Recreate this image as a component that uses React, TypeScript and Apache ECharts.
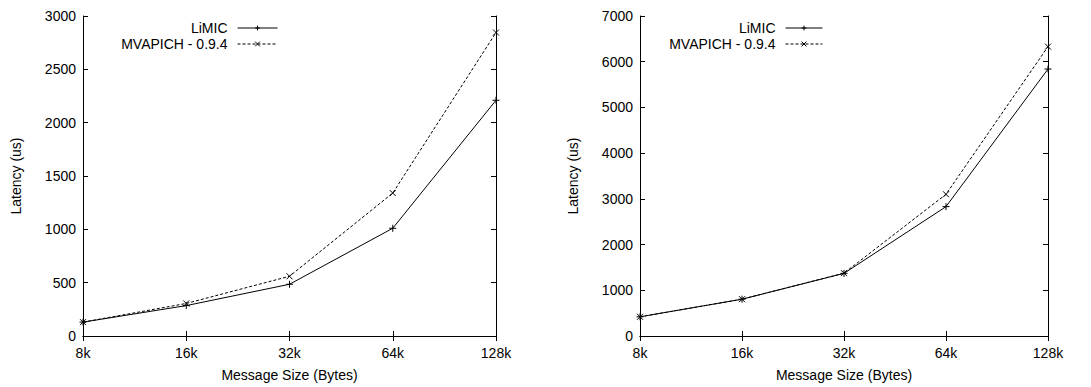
import React, { useEffect, useRef } from "react";
import * as echarts from "echarts";

const categories = ["8k", "16k", "32k", "64k", "128k"];
const leftLimic = [130, 285, 485, 1010, 2210];
const leftMvapich = [130, 305, 560, 1340, 2845];
const rightLimic = [420, 805, 1370, 2830, 5840];
const rightMvapich = [420, 805, 1375, 3100, 6330];
const seriesNames = ["LiMIC", "MVAPICH - 0.9.4"];

const FONT = "Liberation Sans, Arial, Helvetica, sans-serif";
const PLUS = "path://M5,0L5,10M0,5L10,5";
const CROSS = "path://M0,0L10,10M10,0L0,10";

export default function App() {
  const ref = useRef<HTMLDivElement>(null);
  useEffect(() => {
    document.body.style.margin = "0";
    const chart = echarts.init(ref.current!, null, { renderer: "svg" });
    const axisLine = { show: true, lineStyle: { color: "#000", width: 1 } };
    const tick = { show: true, inside: true, length: 5, lineStyle: { color: "#000" } };
    const label = { color: "#000", fontSize: 14, fontFamily: FONT };
    const grids = [
      { left: 83, right: 595, top: 16, bottom: 51 },
      { left: 640, right: 43, top: 16, bottom: 51 },
    ];
    const xAxes: any[] = [];
    const yAxes: any[] = [];
    const yMax = [3000, 7000];
    const yInt = [500, 1000];
    [0, 1].forEach((g) => {
      xAxes.push({
        type: "category",
        gridIndex: g,
        data: categories,
        boundaryGap: false,
        position: "bottom",
        axisLine,
        axisTick: tick,
        axisLabel: { ...label, margin: 10 },
        splitLine: { show: false },
        name: "Message Size (Bytes)",
        nameLocation: "middle",
        nameGap: 32,
        nameTextStyle: { ...label },
      });
      xAxes.push({
        type: "category",
        gridIndex: g,
        data: categories,
        boundaryGap: false,
        position: "top",
        axisLine,
        axisTick: tick,
        axisLabel: { show: false },
        splitLine: { show: false },
      });
      yAxes.push({
        type: "value",
        gridIndex: g,
        min: 0,
        max: yMax[g],
        interval: yInt[g],
        position: "left",
        axisLine,
        axisTick: tick,
        axisLabel: { ...label, margin: 7, formatter: (v: number) => String(v) },
        splitLine: { show: false },
        name: "Latency (us)",
        nameLocation: "middle",
        nameGap: 60,
        nameTextStyle: { ...label },
      });
      yAxes.push({
        type: "value",
        gridIndex: g,
        min: 0,
        max: yMax[g],
        interval: yInt[g],
        position: "right",
        axisLine,
        axisTick: tick,
        axisLabel: { show: false },
        splitLine: { show: false },
      });
    });
    const mk = (name: string, data: number[], g: number, dashed: boolean) => ({
      name,
      type: "line",
      xAxisIndex: g * 2,
      yAxisIndex: g * 2,
      data,
      symbol: dashed ? CROSS : PLUS,
      symbolSize: dashed ? 6 : 7,
      showSymbol: true,
      lineStyle: { color: "#000", width: 1, type: dashed ? [3, 2] : "solid" },
      itemStyle: { color: "rgba(0,0,0,0)", borderColor: "#000", borderWidth: 1 },
      emphasis: { disabled: true },
    });
    const legendBase = {
      orient: "horizontal",
      align: "right",
      padding: 0,
      itemWidth: 40,
      itemHeight: 6,
      textStyle: { ...label, padding: [0, 5, 0, 0] },
      lineStyle: { width: 1 },
      itemStyle: { borderWidth: 1 },
      selectedMode: false,
    };
    chart.setOption({
      animation: false,
      grid: grids,
      xAxis: xAxes,
      yAxis: yAxes,
      legend: [
        { ...legendBase, data: [seriesNames[0]], right: 813, top: 21 },
        { ...legendBase, data: [seriesNames[1]], right: 813, top: 37 },
        { ...legendBase, itemWidth: 37, data: [seriesNames[0]], right: 268, top: 21 },
        { ...legendBase, itemWidth: 37, data: [seriesNames[1]], right: 268, top: 37 },
      ],
      series: [
        mk(seriesNames[0], leftLimic, 0, false),
        mk(seriesNames[1], leftMvapich, 0, true),
        mk(seriesNames[0], rightLimic, 1, false),
        mk(seriesNames[1], rightMvapich, 1, true),
      ],
    });
    return () => chart.dispose();
  }, []);
  return (
    <div
      ref={ref}
      style={{ position: "absolute", left: 0, top: 0, width: 1091, height: 387, background: "#fff" }}
    />
  );
}
